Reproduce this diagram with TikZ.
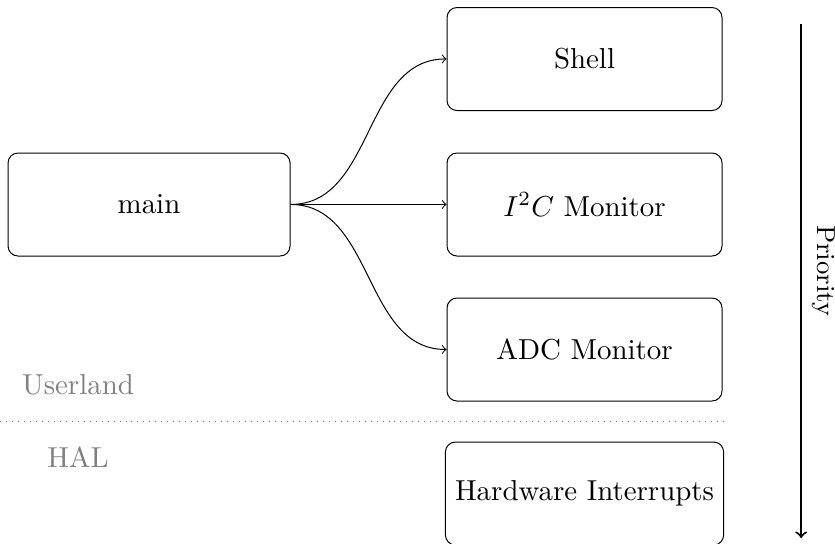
\documentclass[tikz,border=0pt]{standalone}
\usepackage{amsmath}
\usepackage{tikz}
\usetikzlibrary{arrows}
\usetikzlibrary{shapes,positioning,calc}

\tikzset{
	task/.style={draw, rounded corners, minimum width=3.345cm, minimum height=1.253cm},
	layer/.style={text=gray}
}

\begin{document}
\begin{tikzpicture}[scale=1.16, transform shape]
			\useasboundingbox (0,0) rectangle (10.158,6.606);
			\node[task, minimum width=3.431cm] (main) at (1.813,4.118) {main};
			\node[task] (shell) at (7.111,5.888) {Shell};
			\node[task] (i2c) at (7.111,4.118) {$ I^2C $ Monitor};
			\node[task] (adc) at (7.111,2.354) {ADC Monitor};
			\node[task] (hw) at (7.111,0.602) {Hardware Interrupts};
			\draw[->] (main.east) to[out=0, in=180] (shell.west);
			\draw[->] (main.east) -- (i2c.west);
			\draw[->] (main.east) to[out=0, in=180] (adc.west);
			% userland / hal split
			\coordinate (splitl) at (0,1.484);
			\coordinate (splitr) at (8.820,1.484);
			\draw[gray, dotted] (splitl) -- (splitr);
			\node[layer] (userland) at (0.949,1.922) {Userland};
			\node[layer] (hal) at (0.949,1.046) {HAL};
			% priority
			\coordinate (ptop) at (9.745,6.314);
			\coordinate (pbot) at (9.745,0.061);
			\draw[->, thick] (ptop) -- (pbot) node[pos=0.48, anchor=south, rotate=-90, font=\small] (prio) {Priority};
\end{tikzpicture}
\end{document}
